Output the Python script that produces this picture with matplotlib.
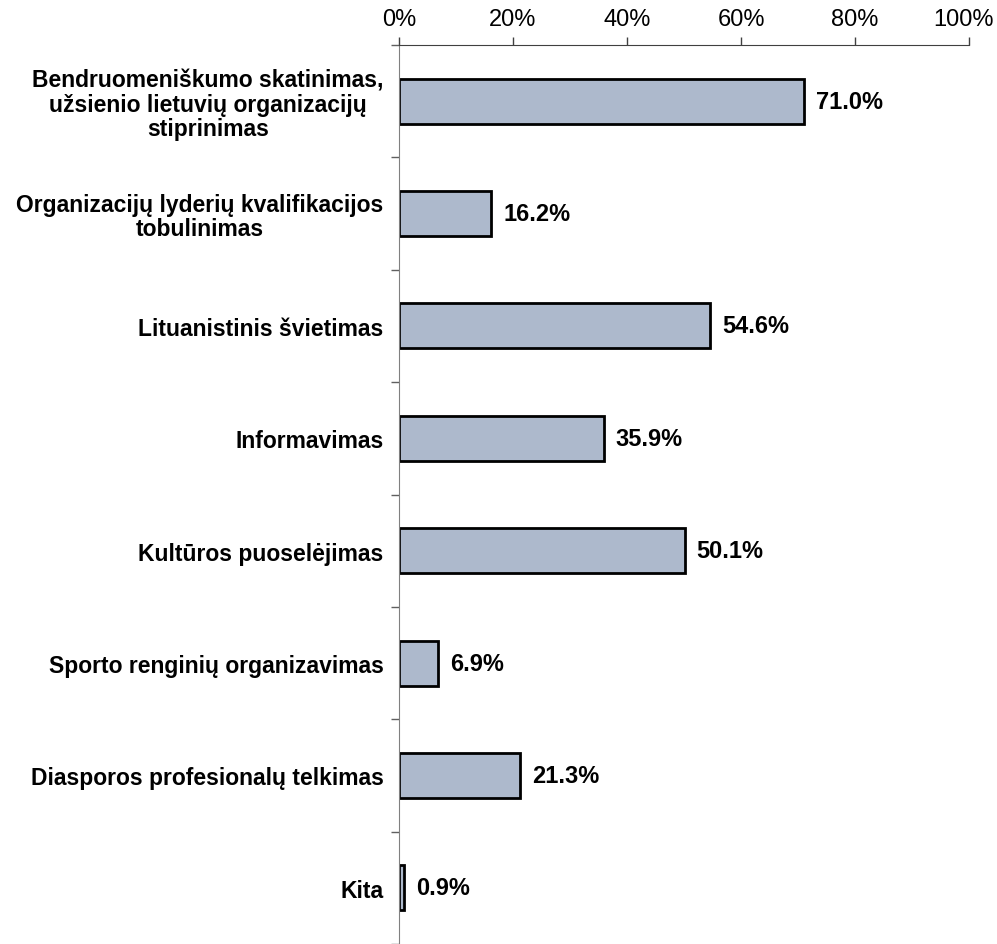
import matplotlib.pyplot as plt
import matplotlib.transforms as mtransforms
import numpy as np

plt.rcParams['font.family'] = ['Liberation Sans', 'DejaVu Sans']

categories = [
    'Bendruomeniškumo skatinimas,\nužsienio lietuvių organizacijų\nstiprinimas',
    'Organizacijų lyderių kvalifikacijos\ntobulinimas',
    'Lituanistinis švietimas',
    'Informavimas',
    'Kultūros puoselėjimas',
    'Sporto renginių organizavimas',
    'Diasporos profesionalų telkimas',
    'Kita',
]
values = [71.0, 16.2, 54.6, 35.9, 50.1, 6.9, 21.3, 0.9]
xticks = [0, 20, 40, 60, 80, 100]

fig = plt.figure(figsize=(9.97, 9.45), dpi=100)
ax = fig.add_axes([399/997, 0, 570/997, 1 - 46/945])

y = np.arange(len(values))
ax.barh(y, values, height=0.4, color='#adb9cc', edgecolor='black', linewidth=2)

for yi, v in zip(y, values):
    ax.text(v + 2.1, yi, f'{v:.1f}%', va='center', ha='left',
            fontsize=17, fontweight='bold')

ax.set_xlim(0, 100)
ax.set_ylim(len(values) - 0.5, -0.5)
ax.xaxis.tick_top()
ax.set_xticks(xticks)
ax.set_xticklabels([f'{t}%' for t in xticks], fontsize=17)
ax.tick_params(axis='x', direction='out', length=6, width=1, color='#404040', pad=5)
# last label sits a bit left so it fits inside the figure
last = ax.get_xticklabels()[-1]
last.set_transform(last.get_transform() + mtransforms.ScaledTranslation(-6/100, 0, fig.dpi_scale_trans))

ax.set_yticks(y)
ax.set_yticklabels(categories, fontsize=16.5, fontweight='bold')
for lab in ax.get_yticklabels():
    lab.set_multialignment('center')
    lab.set_linespacing(1.05)
ax.tick_params(axis='y', which='major', length=0, pad=11)
ax.set_yticks(np.arange(-0.5, len(values), 1), minor=True)
ax.tick_params(axis='y', which='minor', length=6, width=1, color='#606060', direction='out')

for s in ['right', 'bottom']:
    ax.spines[s].set_visible(False)
ax.spines['top'].set_color('#404040')
ax.spines['left'].set_color('#808080')

fig.savefig('out.png', dpi=100)
